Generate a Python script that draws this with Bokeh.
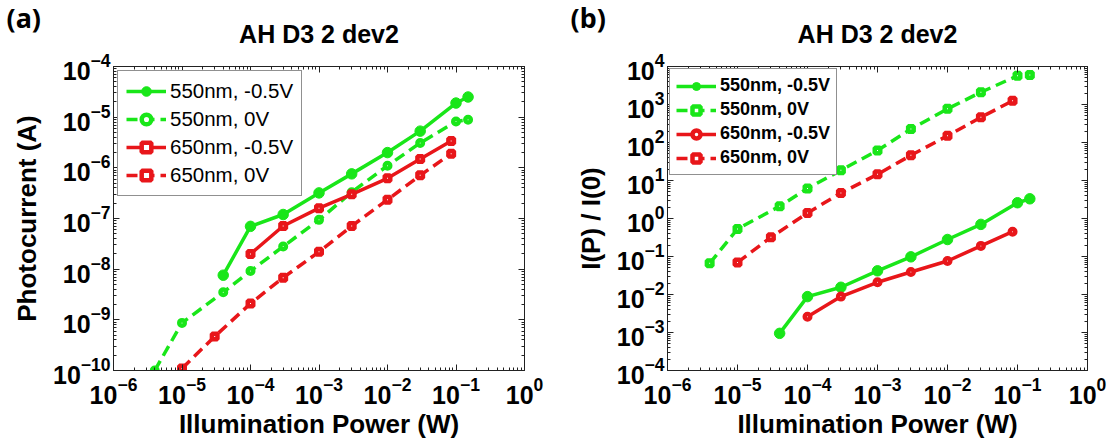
from bokeh.plotting import figure
from bokeh.models import (FixedTicker, LogAxis, LogTickFormatter, CustomJSTickFormatter,
                          Legend, LegendItem, Range1d)
from bokeh.layouts import row
from bokeh.embed import file_html
from bokeh.resources import INLINE

# ---------------- data ----------------
series_labels = ["550nm, -0.5V", "550nm, 0V", "650nm, -0.5V", "650nm, 0V"]

# panel (a): photocurrent (A) vs illumination power (W)
a_550_m05_x = [4e-5, 1e-4, 3e-4, 1e-3, 3e-3, 1e-2, 3e-2, 1e-1, 1.5e-1]
a_550_m05_y = [7.6e-9, 7.0e-8, 1.2e-7, 3.2e-7, 7.6e-7, 2.0e-6, 5.3e-6, 1.9e-5, 2.5e-5]
a_550_0_x = [4e-6, 1e-5, 4e-5, 1e-4, 3e-4, 1e-3, 3e-3, 1e-2, 3e-2, 1e-1, 1.5e-1]
a_550_0_y = [1.0e-10, 8.7e-10, 3.5e-9, 9.2e-9, 2.8e-8, 9.4e-8, 3.3e-7, 1.1e-6, 3.1e-6, 8.2e-6, 8.9e-6]
a_650_m05_x = [1e-4, 3e-4, 1e-3, 3e-3, 1e-2, 3e-2, 8.5e-2]
a_650_m05_y = [2.0e-8, 7.1e-8, 1.6e-7, 3.0e-7, 6.2e-7, 1.5e-6, 3.4e-6]
a_650_0_x = [1e-5, 3e-5, 1e-4, 3e-4, 1e-3, 3e-3, 1e-2, 3e-2, 8.5e-2]
a_650_0_y = [1.1e-10, 4.7e-10, 2.1e-9, 6.8e-9, 2.2e-8, 7.1e-8, 2.35e-7, 7.1e-7, 1.9e-6]

# panel (b): I(P)/I(0) vs illumination power (W)
b_550_m05_x = [4e-5, 1e-4, 3e-4, 1e-3, 3e-3, 1e-2, 3e-2, 1e-1, 1.5e-1]
b_550_m05_y = [9.5e-4, 8.8e-3, 1.55e-2, 4.2e-2, 9.8e-2, 0.28, 0.70, 2.6, 3.3]
b_550_0_x = [4e-6, 1e-5, 4e-5, 1e-4, 3e-4, 1e-3, 3e-3, 1e-2, 3e-2, 1e-1, 1.5e-1]
b_550_0_y = [0.066, 0.53, 2.1, 6.2, 18.5, 62, 225, 770, 2100, 5700, 6000]
b_650_m05_x = [1e-4, 3e-4, 1e-3, 3e-3, 1e-2, 3e-2, 8.5e-2]
b_650_m05_y = [2.6e-3, 8.8e-3, 2.1e-2, 3.9e-2, 7.6e-2, 0.19, 0.45]
b_650_0_x = [1e-5, 3e-5, 1e-4, 3e-4, 1e-3, 3e-3, 1e-2, 3e-2, 8.5e-2]
b_650_0_y = [0.07, 0.32, 1.4, 4.7, 14.5, 46, 150, 460, 1250]

x_exponents = (-6, 0)
a_y_exponents = (-10, -4)
b_y_exponents = (-4, 4)

GREEN = "#19e619"
RED = "#e8161a"
FONT = "Liberation Sans"


def decade_ticks(lo, hi):
    major = [10.0 ** e for e in range(lo, hi + 1)]
    minor = [k * 10.0 ** e for e in range(lo, hi) for k in range(2, 10)]
    return major, minor


def style_axis(ax, show_labels):
    ax.major_tick_in = 6
    ax.major_tick_out = 0
    ax.minor_tick_in = 3
    ax.minor_tick_out = 0
    ax.axis_line_color = "#222222"
    ax.major_tick_line_color = "#222222"
    ax.minor_tick_line_color = "#222222"
    ax.axis_label_text_font = FONT
    ax.axis_label_text_font_style = "bold"
    ax.axis_label_text_color = "black"
    if show_labels:
        ax.major_label_text_font = FONT
        ax.major_label_text_font_style = "bold"
        ax.major_label_text_font_size = "25px"
        ax.major_label_text_color = "black"
        ax.axis_label_text_font_size = "26px"


def make_panel(title, panel_tag, tag_x, ylabel, yexp, series, markers, hollow,
               width, border_left, border_right, legend_font_size, legend_bold,
               legend_glyph_h, legend_spacing, legend_padding, legend_margin):
    xmaj, xmin = decade_ticks(*x_exponents)
    ymaj, ymin = decade_ticks(*yexp)
    p = figure(width=width, height=443, x_axis_type="log", y_axis_type="log",
               x_range=Range1d(10.0 ** x_exponents[0], 10.0 ** x_exponents[1]),
               y_range=Range1d(10.0 ** yexp[0], 10.0 ** yexp[1]),
               output_backend="svg", toolbar_location=None,
               min_border_left=border_left, min_border_right=border_right,
               min_border_top=66, min_border_bottom=73)
    p.xgrid.visible = False
    p.ygrid.visible = False
    p.outline_line_color = "#333333"
    p.background_fill_color = "white"
    p.border_fill_color = "white"

    p.xaxis.ticker = FixedTicker(ticks=xmaj, minor_ticks=xmin)
    p.yaxis.ticker = FixedTicker(ticks=ymaj, minor_ticks=ymin)
    p.xaxis.formatter = LogTickFormatter()
    p.yaxis.formatter = LogTickFormatter()
    p.xaxis.axis_label = "Illumination Power (W)"
    p.yaxis.axis_label = ylabel
    for ax in p.xaxis:
        style_axis(ax, True)
        ax.major_label_standoff = 6
        ax.axis_label_standoff = 2
    for ax in p.yaxis:
        style_axis(ax, True)
        ax.major_label_standoff = 3
        ax.axis_label_standoff = 8

    blank = "return ''"
    # top axis: mirrored ticks, carries the panel title as its label
    top = LogAxis(ticker=FixedTicker(ticks=xmaj, minor_ticks=xmin),
                  formatter=CustomJSTickFormatter(code=blank), major_label_standoff=0,
                  axis_label=title, axis_label_standoff=19)
    style_axis(top, False)
    top.axis_label_text_font_size = "25px"
    right = LogAxis(ticker=FixedTicker(ticks=ymaj, minor_ticks=ymin),
                    formatter=CustomJSTickFormatter(code=blank), major_label_standoff=0)
    style_axis(right, False)
    p.add_layout(top, "above")
    p.add_layout(right, "right")

    # panel tag "(a)"/"(b)" in the top-left corner
    p.title.text = panel_tag
    p.title.align = "left"
    p.title.offset = tag_x - border_left
    p.title.vertical_align = "bottom"
    p.title.standoff = -38
    p.title.text_font = "Noto Sans"
    p.title.text_font_style = "bold"
    p.title.text_font_size = "27px"
    p.title.text_color = "black"

    items = []
    for (lab, xs, ys, color, dash), mk, hol in zip(series, markers, hollow):
        lr = p.line(xs, ys, line_color=color, line_width=3.5, line_dash=dash)
        if hol:
            sr = p.scatter(xs, ys, marker=mk, size=5.5, line_color=color, line_width=4.5,
                           fill_color="white")
        else:
            sr = p.scatter(xs, ys, marker=mk, size=10.5, line_color=color, line_width=1,
                           fill_color=color)
        items.append(LegendItem(label=lab, renderers=[lr, sr]))

    leg = Legend(items=items, location="top_left", margin=legend_margin,
                 padding=legend_padding, spacing=legend_spacing,
                 glyph_width=40, glyph_height=legend_glyph_h, label_height=legend_glyph_h,
                 label_standoff=4,
                 label_text_font=FONT, label_text_font_size=legend_font_size,
                 label_text_font_style="bold" if legend_bold else "normal",
                 label_text_color="black",
                 border_line_color="#222222", border_line_width=1.2,
                 background_fill_color="white", background_fill_alpha=1.0)
    p.add_layout(leg)
    return p


series_a = [
    (series_labels[0], a_550_m05_x, a_550_m05_y, GREEN, "solid"),
    (series_labels[1], a_550_0_x, a_550_0_y, GREEN, "11 6"),
    (series_labels[2], a_650_m05_x, a_650_m05_y, RED, "solid"),
    (series_labels[3], a_650_0_x, a_650_0_y, RED, "11 6"),
]
series_b = [
    (series_labels[0], b_550_m05_x, b_550_m05_y, GREEN, "solid"),
    (series_labels[1], b_550_0_x, b_550_0_y, GREEN, "11 6"),
    (series_labels[2], b_650_m05_x, b_650_m05_y, RED, "solid"),
    (series_labels[3], b_650_0_x, b_650_0_y, RED, "11 6"),
]

pa = make_panel("AH D3 2 dev2", "(a)", 6, "Photocurrent (A)", a_y_exponents, series_a,
                ["circle", "circle", "square", "square"], [False, True, True, True],
                553, 113, 29, "20.5px", False, 24, 4, 8, 4)
pb = make_panel("AH D3 2 dev2", "(b)", 17, "I(P) / I(0)", b_y_exponents, series_b,
                ["circle", "square", "circle", "square"], [False, True, True, True],
                554, 114, 20, "18px", True, 20, 3, 6, 2)

layout = row(pa, pb, spacing=0)
open("out.html", "w").write(file_html(layout, INLINE))
